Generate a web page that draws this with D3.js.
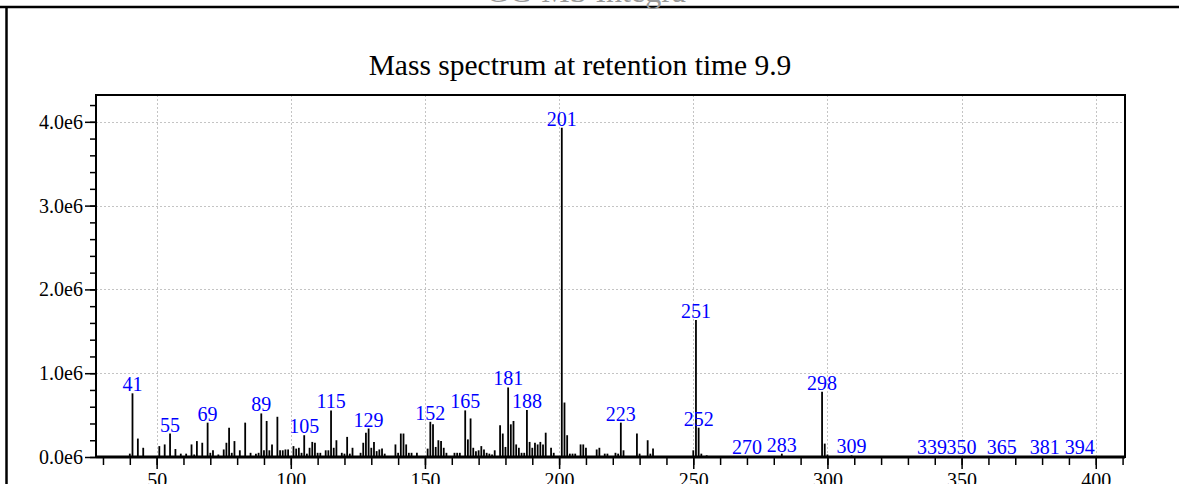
<!DOCTYPE html>
<html>
<head>
<meta charset="utf-8">
<script src="https://cdn.jsdelivr.net/npm/d3@7"></script>
<style>
  html, body { margin: 0; padding: 0; background: #fff; overflow: hidden; }
  svg { display: block; font-family: "Liberation Serif", "Times New Roman", serif; }
</style>
</head>
<body>
<svg id="chart" width="1179" height="484"></svg>
<script>
// m/z values of the spectrum peaks
const mz = [40, 41, 43, 45, 51, 53, 55, 57, 59, 61, 63, 64, 65, 67, 69, 70, 71, 73, 75, 76, 77, 78, 79, 81, 83, 85, 87, 88, 89, 90, 91, 92, 93, 95, 96, 97, 98, 99,
  101, 102, 103, 104, 105, 106, 107, 108, 109, 110, 111, 113, 114, 115, 116, 117, 119, 120, 121, 122, 123, 126, 127, 128, 129, 130, 131, 132, 133, 134, 135,
  139, 140, 141, 142, 143, 144, 145, 147, 151, 152, 153, 154, 155, 156, 157, 158, 161, 162, 163, 165, 166, 167, 168, 169, 170, 171, 172, 173, 174, 175, 176,
  178, 179, 180, 181, 182, 183, 184, 185, 186, 187, 188, 189, 190, 191, 192, 193, 194, 195, 197, 198, 201, 202, 203, 204, 205, 206, 208, 209, 210, 214, 215,
  217, 218, 221, 222, 223, 224, 229, 230, 233, 234, 235, 250, 251, 252, 253, 255, 270, 283, 298, 299, 300, 309, 339, 350, 365, 381, 394];

// abundance of each peak (counts)
const intensity = [40000, 760000, 220000, 110000, 130000, 150000, 280000, 95000, 40000, 40000, 150000, 30000, 190000, 170000, 410000, 50000, 80000, 30000, 90000, 170000, 350000, 50000, 190000, 80000, 410000, 50000, 40000, 50000, 520000, 80000, 430000, 80000, 150000, 480000, 80000, 80000, 90000, 90000,
  130000, 100000, 110000, 50000, 260000, 40000, 110000, 180000, 170000, 50000, 50000, 80000, 80000, 556000, 110000, 200000, 50000, 40000, 240000, 40000, 110000, 50000, 170000, 290000, 340000, 110000, 180000, 70000, 90000, 100000, 40000,
  150000, 50000, 280000, 280000, 150000, 50000, 50000, 50000, 100000, 420000, 390000, 120000, 200000, 190000, 110000, 50000, 50000, 50000, 50000, 556000, 210000, 460000, 110000, 70000, 80000, 130000, 90000, 50000, 40000, 30000, 80000,
  380000, 280000, 120000, 830000, 390000, 430000, 150000, 110000, 50000, 50000, 560000, 180000, 110000, 170000, 150000, 180000, 150000, 290000, 110000, 50000, 3930000, 650000, 260000, 40000, 40000, 40000, 150000, 150000, 110000, 90000, 110000,
  40000, 40000, 50000, 40000, 410000, 80000, 280000, 40000, 200000, 40000, 100000, 80000, 1635000, 350000, 40000, 20000, 10000, 40000, 780000, 160000, 30000, 20000, 10000, 10000, 10000, 10000, 10000];

// peaks annotated with their m/z
const labelledMz = [41, 55, 69, 89, 105, 115, 129, 152, 165, 181, 188, 201, 223, 251, 252, 270, 283, 298, 309, 339, 350, 365, 381, 394];

// axis ticks
const xMajorTicks = [50, 100, 150, 200, 250, 300, 350, 400];
const yMajorTicks = [0, 1e6, 2e6, 3e6, 4e6];

const titleText = "Mass spectrum at retention time 9.9";
const headerText = "GC-MS Integra";

const svg = d3.select("#chart");
const W = 1179, H = 484;
const plot = { left: 96, right: 1125, top: 95, bottom: 457 };

const x = d3.scaleLinear().domain([27.4, 410.9]).range([plot.left, plot.right]);
const y = d3.scaleLinear().domain([0, 4.32e6]).range([plot.bottom, plot.top]);

// outer page frame
svg.append("line").attr("x1", 0).attr("x2", W).attr("y1", 7).attr("y2", 7)
  .attr("stroke", "#000").attr("stroke-width", 2.5);
svg.append("line").attr("x1", 6.5).attr("x2", 6.5).attr("y1", 7).attr("y2", H)
  .attr("stroke", "#000").attr("stroke-width", 2.5);

// header (runs off the top edge)
svg.append("text").attr("x", 586).attr("y", 1.5).attr("text-anchor", "middle")
  .attr("font-size", 32).attr("fill", "#999").text(headerText);

// title
svg.append("text").attr("x", 580).attr("y", 75).attr("text-anchor", "middle")
  .attr("font-size", 29.5).attr("fill", "#000").text(titleText);

// grid
const grid = svg.append("g").attr("stroke", "#c4c4c4").attr("stroke-width", 1).attr("stroke-dasharray", "2,2");
grid.selectAll(".gx").data(xMajorTicks).join("line")
  .attr("x1", d => Math.round(x(d)) + 0.5).attr("x2", d => Math.round(x(d)) + 0.5)
  .attr("y1", plot.top).attr("y2", plot.bottom);
grid.selectAll(".gy").data(yMajorTicks.filter(d => d > 0)).join("line")
  .attr("x1", plot.left).attr("x2", plot.right)
  .attr("y1", d => Math.round(y(d)) + 0.5).attr("y2", d => Math.round(y(d)) + 0.5);

// spectrum sticks
const peaks = mz.map((m, i) => ({ mz: m, value: intensity[i] }));
svg.append("g").selectAll("line").data(peaks).join("line")
  .attr("x1", d => x(d.mz)).attr("x2", d => x(d.mz))
  .attr("y1", y(0)).attr("y2", d => y(d.value))
  .attr("stroke", "#000").attr("stroke-width", 1.8);

// peak labels
const labelled = peaks.filter(p => labelledMz.includes(p.mz));
svg.append("g").selectAll("text").data(labelled).join("text")
  .attr("x", d => x(d.mz)).attr("y", d => y(d.value) - 2)
  .attr("text-anchor", "middle").attr("font-size", 20).attr("fill", "#0000ff")
  .text(d => d.mz);

// plot frame
svg.append("rect").attr("x", plot.left).attr("y", plot.top)
  .attr("width", plot.right - plot.left).attr("height", plot.bottom - plot.top)
  .attr("fill", "none").attr("stroke", "#000").attr("stroke-width", 2);
svg.append("line").attr("x1", plot.left).attr("x2", plot.right)
  .attr("y1", plot.bottom).attr("y2", plot.bottom)
  .attr("stroke", "#000").attr("stroke-width", 3);

// x axis: major and minor ticks
const xAxis = d3.axisBottom(x).tickValues(xMajorTicks).tickSize(11).tickPadding(4).tickFormat(d3.format("d"));
const xMinor = d3.axisBottom(x).tickValues(d3.range(30, 411, 10)).tickSize(7).tickFormat("");
const gxMinor = svg.append("g").attr("transform", `translate(0,${plot.bottom + 1})`).call(xMinor);
const gx = svg.append("g").attr("transform", `translate(0,${plot.bottom + 1})`).call(xAxis);
[gx, gxMinor].forEach(g => {
  g.select(".domain").remove();
  g.selectAll(".tick line").attr("stroke", "#000").attr("stroke-width", 1.5);
});
gx.selectAll(".tick text").attr("font-size", 20).attr("fill", "#000")
  .attr("font-family", "Liberation Serif, serif");

// y axis: major and minor ticks
const yAxis = d3.axisLeft(y).tickValues(yMajorTicks).tickSize(11).tickPadding(2)
  .tickFormat(d => d3.format(".1f")(d / 1e6) + "e6");
const yMinor = d3.axisLeft(y).tickValues(d3.range(0, 4.21e6, 0.2e6)).tickSize(6).tickFormat("");
const gyMinor = svg.append("g").attr("transform", `translate(${plot.left},0)`).call(yMinor);
const gy = svg.append("g").attr("transform", `translate(${plot.left},0)`).call(yAxis);
[gy, gyMinor].forEach(g => {
  g.select(".domain").remove();
  g.selectAll(".tick line").attr("stroke", "#000").attr("stroke-width", 1.5);
});
gy.selectAll(".tick text").attr("font-size", 20).attr("fill", "#000")
  .attr("font-family", "Liberation Serif, serif");
</script>
</body>
</html>
